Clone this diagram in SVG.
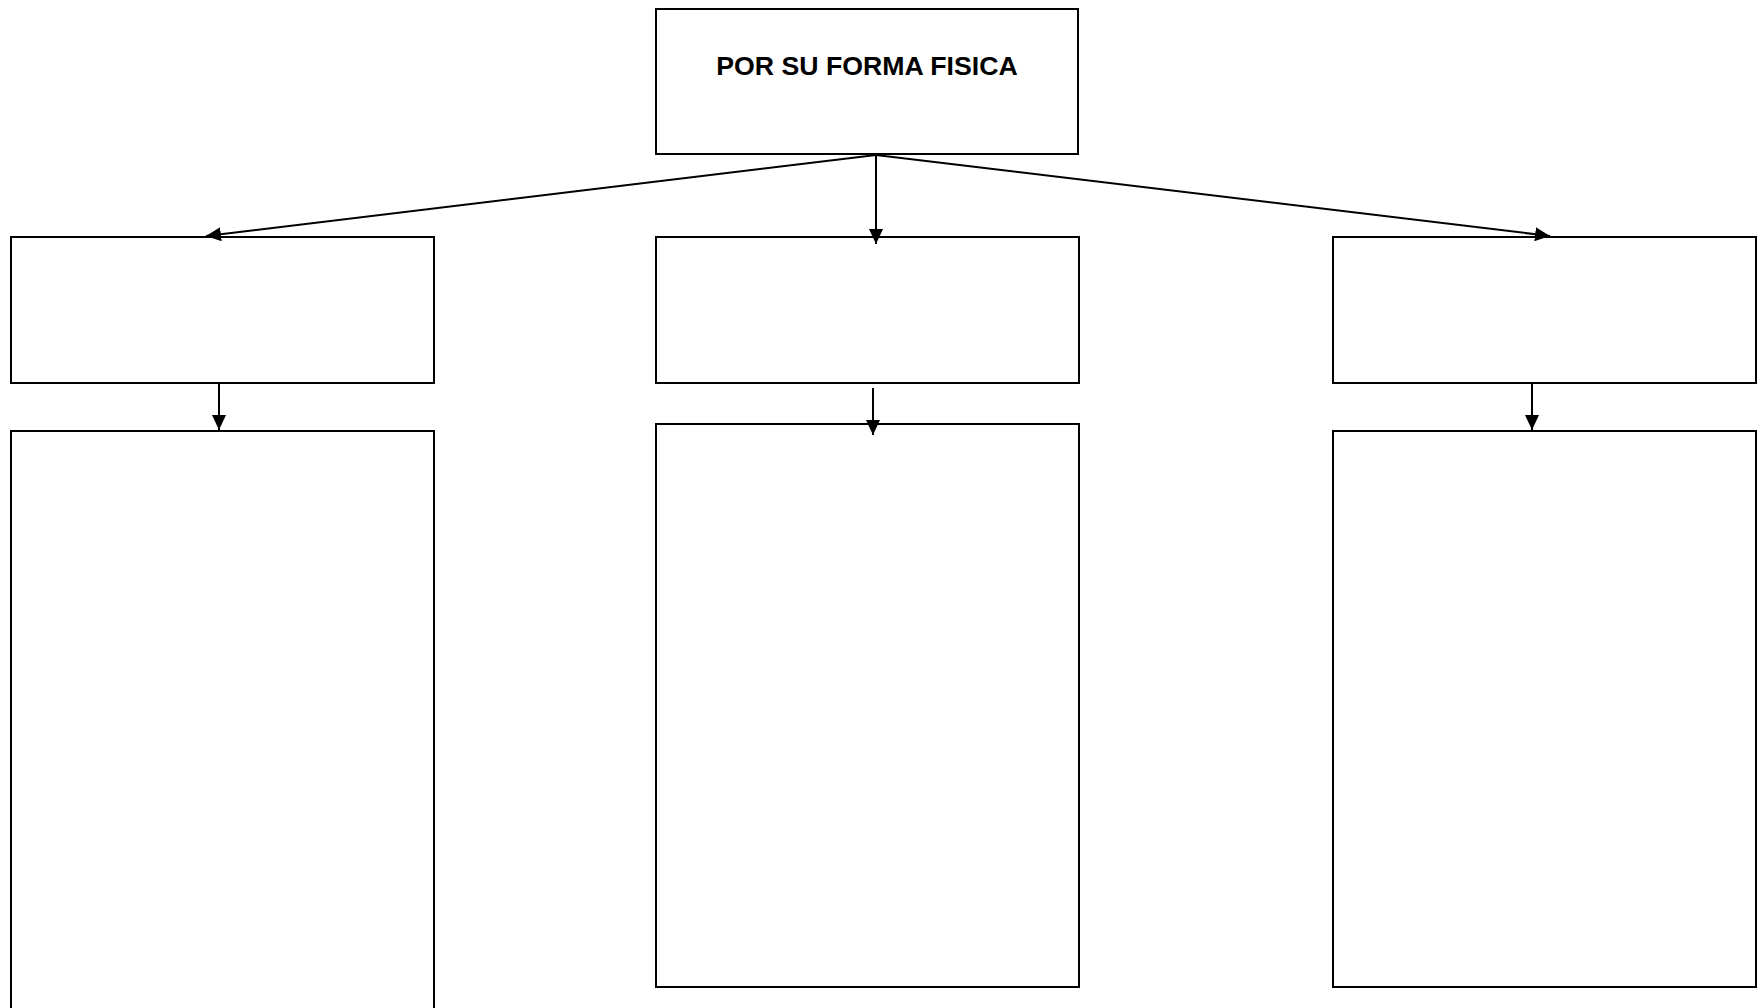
<svg xmlns="http://www.w3.org/2000/svg" width="1762" height="1008" viewBox="0 0 1762 1008">
<style>
.box{fill:#fff;stroke:#000;stroke-width:2}
.conn{stroke:#000;stroke-width:2;fill:none}
.title{font-family:"Liberation Sans",Arial,sans-serif;font-weight:bold;font-size:26.7px;fill:#000}
</style>
<defs>
<marker id="arr" markerUnits="userSpaceOnUse" markerWidth="16" markerHeight="14" refX="15" refY="7" orient="auto">
<path d="M0,0 L15,7 L0,14 z" fill="#000"/>
</marker>
</defs>
<rect width="1762" height="1008" fill="#fff"/>
<g id="node-top">
<rect class="box" x="656" y="9" width="422" height="145"/>
<text class="title" x="867" y="75" text-anchor="middle">POR SU FORMA FISICA</text>
</g>
<g id="node-left-1"><rect class="box" x="11" y="237" width="423" height="146"/></g>
<g id="node-mid-1"><rect class="box" x="656" y="237" width="423" height="146"/></g>
<g id="node-right-1"><rect class="box" x="1333" y="237" width="423" height="146"/></g>
<g id="node-left-2"><rect class="box" x="11" y="431" width="423" height="600"/></g>
<g id="node-mid-2"><rect class="box" x="656" y="424" width="423" height="563"/></g>
<g id="node-right-2"><rect class="box" x="1333" y="431" width="423" height="556"/></g>
<g id="connectors">
<line class="conn" x1="876" y1="155" x2="206" y2="236" marker-end="url(#arr)"/>
<line class="conn" x1="876" y1="155" x2="876" y2="244" marker-end="url(#arr)"/>
<line class="conn" x1="876" y1="155" x2="1550" y2="236" marker-end="url(#arr)"/>
<line class="conn" x1="219" y1="383" x2="219" y2="430" marker-end="url(#arr)"/>
<line class="conn" x1="873" y1="388" x2="873" y2="435" marker-end="url(#arr)"/>
<line class="conn" x1="1532" y1="383" x2="1532" y2="430" marker-end="url(#arr)"/>
</g>
</svg>
